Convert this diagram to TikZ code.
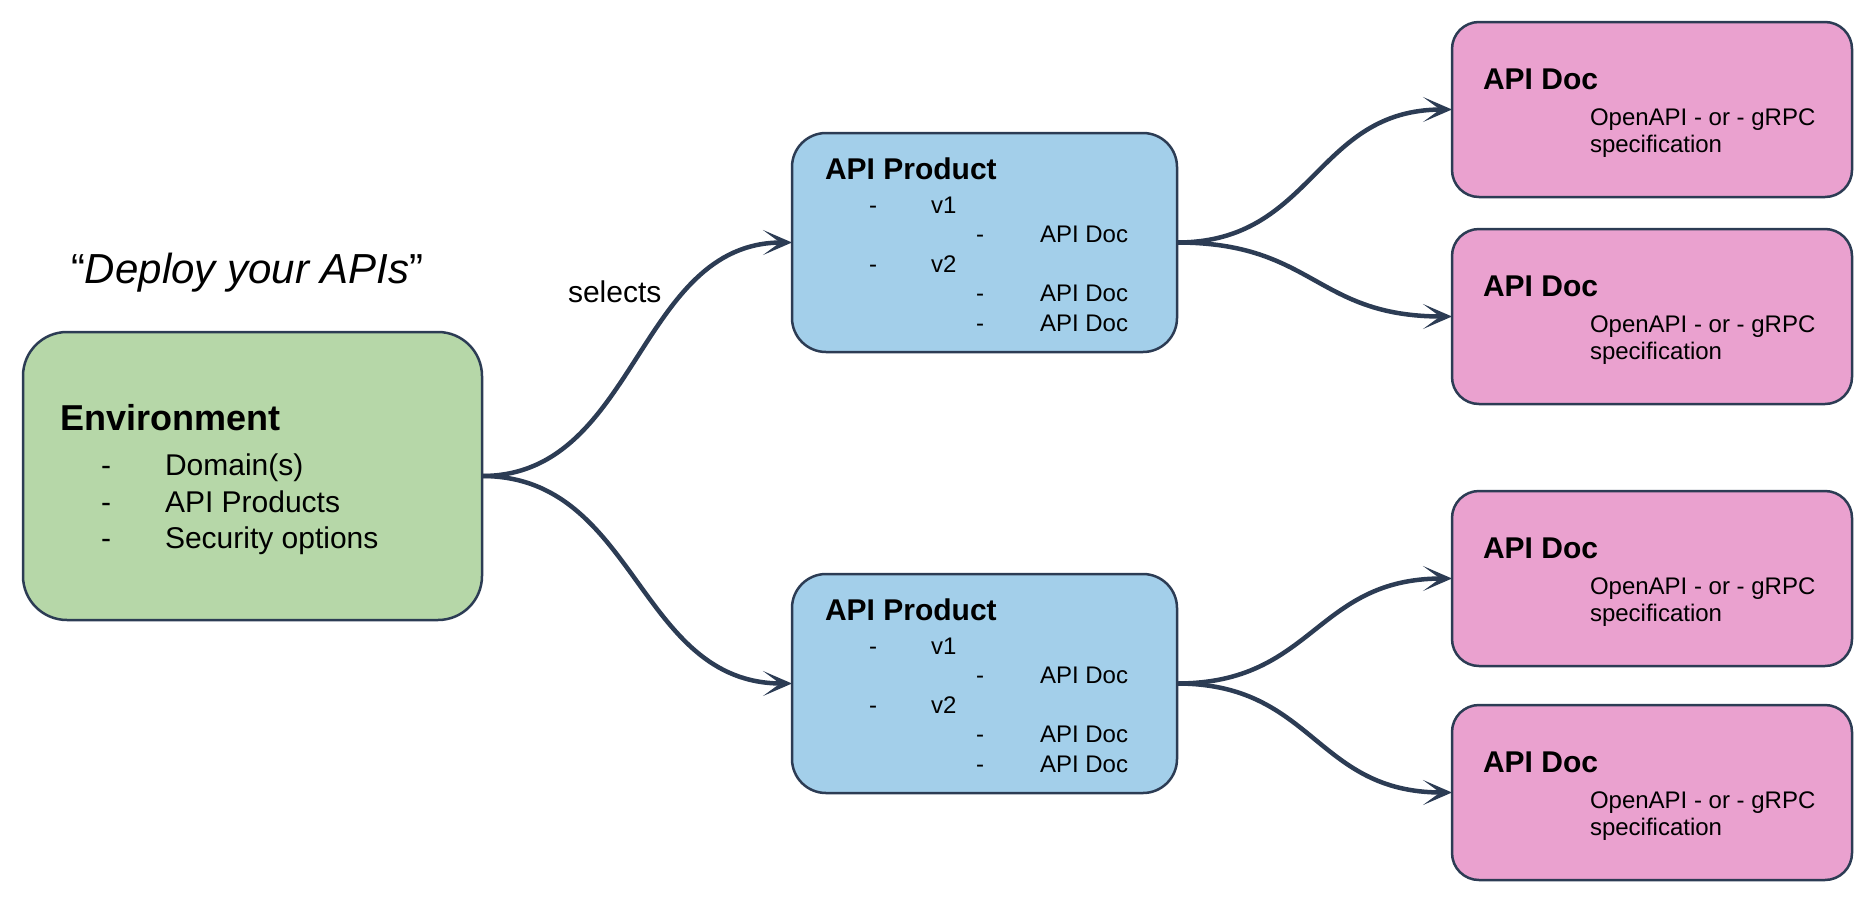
\documentclass[tikz,border=0pt]{standalone}
\usepackage{fontspec}
\setmainfont{Liberation Sans}
\usetikzlibrary{arrows.meta}
\definecolor{envgreen}{HTML}{B6D7A8}
\definecolor{prodblue}{HTML}{A3CFEA}
\definecolor{docpink}{HTML}{EAA1CF}
\definecolor{edgecol}{RGB}{44,60,84}
\tikzset{
  box/.style={draw=edgecol, line width=2.5pt, inner sep=0pt, outer sep=0pt},
  envbox/.style={box, fill=envgreen, rounded corners=44pt, minimum width=459pt, minimum height=288pt},
  prodbox/.style={box, fill=prodblue, rounded corners=34pt, minimum width=385pt, minimum height=219pt},
  docbox/.style={box, fill=docpink, rounded corners=27pt, minimum width=400pt, minimum height=175pt},
  txt/.style={anchor=base west, inner sep=0pt, outer sep=0pt, text=black},
  bigtitle/.style={txt, font=\fontsize{36}{40}\selectfont\bfseries},
  title/.style={txt, font=\fontsize{30}{34}\selectfont\bfseries},
  bigitem/.style={txt, font=\fontsize{30}{34}\selectfont},
  item/.style={txt, font=\fontsize{24}{28}\selectfont},
  conn/.style={draw=edgecol, line width=4.5pt, -{Stealth[length=29pt,width=25pt,inset=17pt]}}
}
\begin{document}
\begin{tikzpicture}[x=1pt,y=-1pt]
\useasboundingbox (0,0) rectangle (1868,908);

% quote and label
\node[txt, font=\fontsize{42}{46}\selectfont] (quote) at (71,283) {“\textit{Deploy your APIs}”};
\node[bigitem] (sel) at (568,302) {selects};

% environment
\node[envbox] (env) at (252.5,476) {};
\node[bigtitle] (envt) at (60,430) {Environment};
\node[bigitem] (ed1) at (101,475) {-};
\node[bigitem] (ei1) at (165,475) {Domain(s)};
\node[bigitem] (ed2) at (101,512) {-};
\node[bigitem] (ei2) at (165,512) {API Products};
\node[bigitem] (ed3) at (101,548) {-};
\node[bigitem] (ei3) at (165,548) {Security options};

% products
\foreach \n/\dy in {1/0, 2/441} {
  \node[prodbox] (prod\n) at (984.5,{242.5+\dy}) {};
  \node[title] (pt\n) at (825,{179+\dy}) {API Product};
  \node[item] (pa\n) at (869,{213+\dy}) {-};
  \node[item] (pv\n a) at (931,{213+\dy}) {v1};
  \node[item] (pb\n) at (976,{242.5+\dy}) {-};
  \node[item] (pd\n a) at (1040,{242.5+\dy}) {API Doc};
  \node[item] (pc\n) at (869,{272+\dy}) {-};
  \node[item] (pv\n b) at (931,{272+\dy}) {v2};
  \node[item] (pe\n) at (976,{301.5+\dy}) {-};
  \node[item] (pd\n b) at (1040,{301.5+\dy}) {API Doc};
  \node[item] (pf\n) at (976,{331+\dy}) {-};
  \node[item] (pd\n c) at (1040,{331+\dy}) {API Doc};
}

% docs
\foreach \n/\top in {1/22, 2/229, 3/491, 4/705} {
  \node[docbox] (doc\n) at (1652,{\top+87.5}) {};
  \node[title] (dt\n) at (1483,{\top+67}) {API Doc};
  \node[item] (dl\n a) at (1590,{\top+103}) {OpenAPI - or - gRPC};
  \node[item] (dl\n b) at (1590,{\top+130}) {specification};
}

% connectors
\draw[conn] (env.east) .. controls +(155,0) and +(-155,0) .. (prod1.west);
\draw[conn] (env.east) .. controls +(155,0) and +(-155,0) .. (prod2.west);
\draw[conn] (prod1.east) .. controls +(137,0) and +(-137,0) .. (doc1.west);
\draw[conn] (prod1.east) .. controls +(137,0) and +(-137,0) .. (doc2.west);
\draw[conn] (prod2.east) .. controls +(137,0) and +(-137,0) .. (doc3.west);
\draw[conn] (prod2.east) .. controls +(137,0) and +(-137,0) .. (doc4.west);
\end{tikzpicture}
\end{document}
